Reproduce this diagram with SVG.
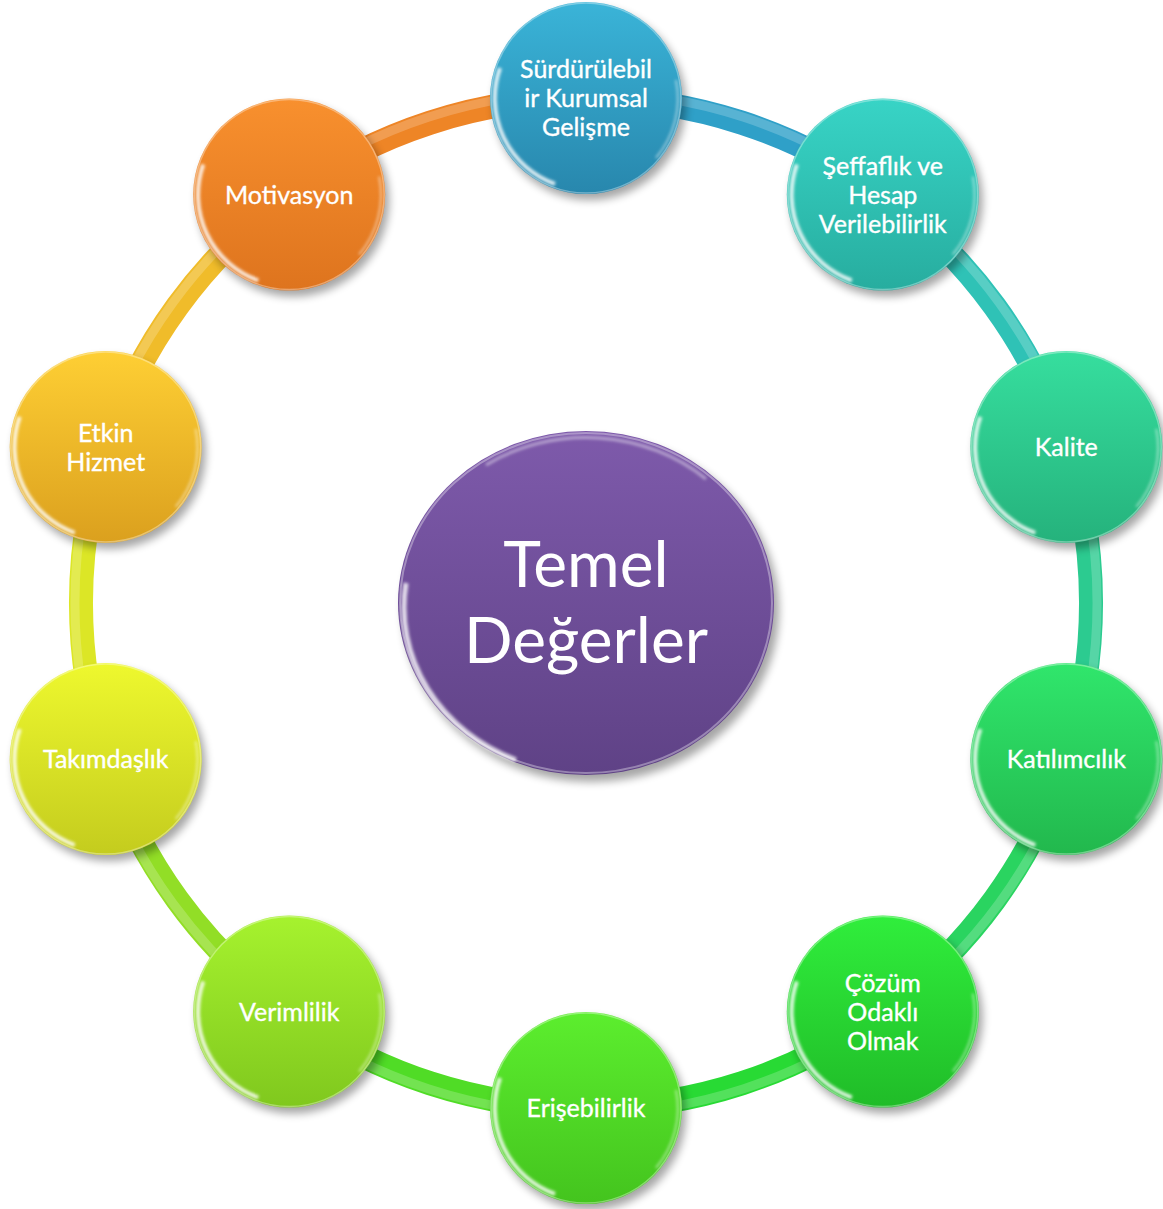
<svg xmlns="http://www.w3.org/2000/svg" xmlns:xlink="http://www.w3.org/1999/xlink" width="1163" height="1209" viewBox="0 0 1163 1209">
  <defs>
    <style>
      .lbl { font-family: Lato, "Open Sans", "Liberation Sans", sans-serif; font-size: 25px; fill: #ffffff; stroke: #ffffff; stroke-width: 0.35; text-anchor: middle; }
      .big { font-family: Lato, "Open Sans", "Liberation Sans", sans-serif; font-size: 64px; fill: #ffffff; text-anchor: middle; }
      .seg { fill: none; stroke-width: 24; stroke-linecap: butt; }
      .seghi { fill: none; stroke-width: 9; stroke: #ffffff; stroke-opacity: 0.2; }
      .shadow { fill: #000000; opacity: 0.35; filter: url(#soft); }
    </style>
    <filter id="soft" x="-30%" y="-30%" width="160%" height="160%">
      <feGaussianBlur stdDeviation="4"/>
    </filter>
    <filter id="glow" x="-30%" y="-30%" width="160%" height="160%">
      <feGaussianBlur stdDeviation="1.6"/>
    </filter>
    <!-- glossy rim shared by all circular nodes (r = 96) -->
    <g id="gloss">
      <circle r="95" fill="none" stroke="#ffffff" stroke-opacity="0.35" stroke-width="1.5"/>
      <path d="M -31 86 A 91 91 0 0 1 -86 -30" fill="none" stroke="#ffffff" stroke-width="4" stroke-opacity="0.85" filter="url(#glow)"/>
      <path d="M 90 -18 A 92 92 0 0 1 70 60" fill="none" stroke="#ffffff" stroke-width="2" stroke-opacity="0.5" filter="url(#glow)"/>
    </g>
    <linearGradient id="g0" x1="0" y1="0" x2="0" y2="1"><stop offset="0" stop-color="#3ab4d8"/><stop offset="1" stop-color="#2887ad"/></linearGradient>
    <linearGradient id="g1" x1="0" y1="0" x2="0" y2="1"><stop offset="0" stop-color="#38d4c6"/><stop offset="1" stop-color="#27ad9f"/></linearGradient>
    <linearGradient id="g2" x1="0" y1="0" x2="0" y2="1"><stop offset="0" stop-color="#36de9e"/><stop offset="1" stop-color="#25b27c"/></linearGradient>
    <linearGradient id="g3" x1="0" y1="0" x2="0" y2="1"><stop offset="0" stop-color="#30e66c"/><stop offset="1" stop-color="#22b84d"/></linearGradient>
    <linearGradient id="g4" x1="0" y1="0" x2="0" y2="1"><stop offset="0" stop-color="#30ee3c"/><stop offset="1" stop-color="#20bc28"/></linearGradient>
    <linearGradient id="g5" x1="0" y1="0" x2="0" y2="1"><stop offset="0" stop-color="#5cee2e"/><stop offset="1" stop-color="#44c41e"/></linearGradient>
    <linearGradient id="g6" x1="0" y1="0" x2="0" y2="1"><stop offset="0" stop-color="#a6f22e"/><stop offset="1" stop-color="#80c81e"/></linearGradient>
    <linearGradient id="g7" x1="0" y1="0" x2="0" y2="1"><stop offset="0" stop-color="#eef82e"/><stop offset="1" stop-color="#c4cc1e"/></linearGradient>
    <linearGradient id="g8" x1="0" y1="0" x2="0" y2="1"><stop offset="0" stop-color="#fecf34"/><stop offset="1" stop-color="#dba01e"/></linearGradient>
    <linearGradient id="g9" x1="0" y1="0" x2="0" y2="1"><stop offset="0" stop-color="#f8902e"/><stop offset="1" stop-color="#de741e"/></linearGradient>
    <linearGradient id="gc" x1="0" y1="0" x2="0" y2="1"><stop offset="0" stop-color="#7e5aab"/><stop offset="1" stop-color="#5f4286"/></linearGradient>
  </defs>

  <rect width="1163" height="1209" fill="#ffffff"/>

  <!-- ring segments, each in the colour of the node it leaves (clockwise) -->
  <g id="connectors">
    <path class="seg" stroke="#2fa0c8" d="M 586 98 A 505 505 0 0 1 882.8 194.5"/>
    <path class="seg" stroke="#2fc2b6" d="M 882.8 194.5 A 505 505 0 0 1 1066.3 446.9"/>
    <path class="seg" stroke="#2ccb90" d="M 1066.3 446.9 A 505 505 0 0 1 1066.3 759.1"/>
    <path class="seg" stroke="#2ad460" d="M 1066.3 759.1 A 505 505 0 0 1 882.8 1011.5"/>
    <path class="seg" stroke="#28da34" d="M 882.8 1011.5 A 505 505 0 0 1 586 1108"/>
    <path class="seg" stroke="#50dc26" d="M 586 1108 A 505 505 0 0 1 289.2 1011.5"/>
    <path class="seg" stroke="#92de26" d="M 289.2 1011.5 A 505 505 0 0 1 105.7 759.1"/>
    <path class="seg" stroke="#dce626" d="M 105.7 759.1 A 505 505 0 0 1 105.7 446.9"/>
    <path class="seg" stroke="#f0bc2a" d="M 105.7 446.9 A 505 505 0 0 1 289.2 194.5"/>
    <path class="seg" stroke="#ee8526" d="M 289.2 194.5 A 505 505 0 0 1 586 98"/>
    <path class="seghi" d="M 586 92 A 511 511 0 0 1 886 190 M 886 190 A 511 511 0 0 1 1072 445 M 1072 445 A 511 511 0 0 1 1072 761 M 1072 761 A 511 511 0 0 1 886 1016 M 886 1016 A 511 511 0 0 1 586 1114 M 586 1114 A 511 511 0 0 1 286 1016 M 286 1016 A 511 511 0 0 1 100 761 M 100 761 A 511 511 0 0 1 100 445 M 100 445 A 511 511 0 0 1 286 190 M 286 190 A 511 511 0 0 1 586 92"/>
  </g>

  <!-- centre node -->
  <g id="node-center" transform="translate(586 603)">
    <ellipse class="shadow" cx="5" cy="7" rx="188" ry="172"/>
    <ellipse rx="188" ry="172" fill="url(#gc)"/>
    <ellipse rx="186" ry="170" fill="none" stroke="#ffffff" stroke-opacity="0.35" stroke-width="2"/>
    <path d="M -70 157 A 181 165 0 0 1 -180 -20" fill="none" stroke="#ffffff" stroke-width="5" stroke-opacity="0.8" filter="url(#glow)"/>
    <path d="M -100 -138 A 181 165 0 0 1 120 -124" fill="none" stroke="#ffffff" stroke-width="3" stroke-opacity="0.45" filter="url(#glow)"/>
    <text class="big" x="0" y="-16">Temel</text>
    <text class="big" x="0" y="60">Değerler</text>
  </g>

  <g id="node-surdurulebilir" transform="translate(586 98)">
    <circle class="shadow" cx="4" cy="6" r="96"/>
    <circle r="96" fill="url(#g0)"/>
    <use href="#gloss"/>
    <text class="lbl" x="0" y="-20">Sürdürülebil</text>
    <text class="lbl" x="0" y="9">ir Kurumsal</text>
    <text class="lbl" x="0" y="38">Gelişme</text>
  </g>

  <g id="node-seffaflik" transform="translate(882.8 194.5)">
    <circle class="shadow" cx="4" cy="6" r="96"/>
    <circle r="96" fill="url(#g1)"/>
    <use href="#gloss"/>
    <text class="lbl" x="0" y="-20">Şeffaflık ve</text>
    <text class="lbl" x="0" y="9">Hesap</text>
    <text class="lbl" x="0" y="38">Verilebilirlik</text>
  </g>

  <g id="node-kalite" transform="translate(1066.3 446.9)">
    <circle class="shadow" cx="4" cy="6" r="96"/>
    <circle r="96" fill="url(#g2)"/>
    <use href="#gloss"/>
    <text class="lbl" x="0" y="9">Kalite</text>
  </g>

  <g id="node-katilimcilik" transform="translate(1066.3 759.1)">
    <circle class="shadow" cx="4" cy="6" r="96"/>
    <circle r="96" fill="url(#g3)"/>
    <use href="#gloss"/>
    <text class="lbl" x="0" y="9">Katılımcılık</text>
  </g>

  <g id="node-cozum" transform="translate(882.8 1011.5)">
    <circle class="shadow" cx="4" cy="6" r="96"/>
    <circle r="96" fill="url(#g4)"/>
    <use href="#gloss"/>
    <text class="lbl" x="0" y="-20">Çözüm</text>
    <text class="lbl" x="0" y="9">Odaklı</text>
    <text class="lbl" x="0" y="38">Olmak</text>
  </g>

  <g id="node-erisebilirlik" transform="translate(586 1108)">
    <circle class="shadow" cx="4" cy="6" r="96"/>
    <circle r="96" fill="url(#g5)"/>
    <use href="#gloss"/>
    <text class="lbl" x="0" y="9">Erişebilirlik</text>
  </g>

  <g id="node-verimlilik" transform="translate(289.2 1011.5)">
    <circle class="shadow" cx="4" cy="6" r="96"/>
    <circle r="96" fill="url(#g6)"/>
    <use href="#gloss"/>
    <text class="lbl" x="0" y="9">Verimlilik</text>
  </g>

  <g id="node-takimdaslik" transform="translate(105.7 759.1)">
    <circle class="shadow" cx="4" cy="6" r="96"/>
    <circle r="96" fill="url(#g7)"/>
    <use href="#gloss"/>
    <text class="lbl" x="0" y="9">Takımdaşlık</text>
  </g>

  <g id="node-etkin" transform="translate(105.7 446.9)">
    <circle class="shadow" cx="4" cy="6" r="96"/>
    <circle r="96" fill="url(#g8)"/>
    <use href="#gloss"/>
    <text class="lbl" x="0" y="-5">Etkin</text>
    <text class="lbl" x="0" y="24">Hizmet</text>
  </g>

  <g id="node-motivasyon" transform="translate(289.2 194.5)">
    <circle class="shadow" cx="4" cy="6" r="96"/>
    <circle r="96" fill="url(#g9)"/>
    <use href="#gloss"/>
    <text class="lbl" x="0" y="9">Motivasyon</text>
  </g>
</svg>
